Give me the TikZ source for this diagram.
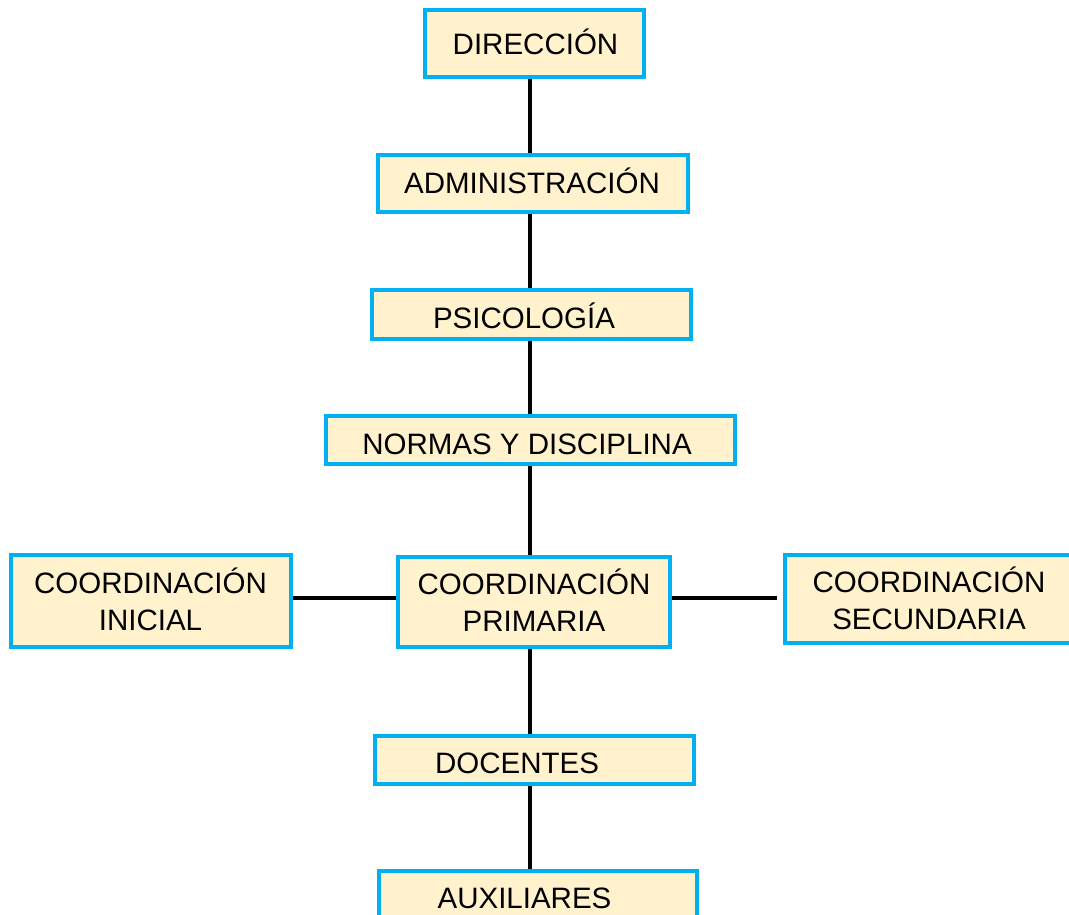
\documentclass[tikz,border=0pt]{standalone}
\usepackage{fontspec}
\setmainfont{Liberation Sans}
\definecolor{boxline}{HTML}{00B0F0}
\definecolor{boxfill}{HTML}{FFF2CC}
\begin{document}
\begin{tikzpicture}[x=1pt,y=-1pt,
  orgbox/.style={draw=boxline, fill=boxfill, line width=4.5pt, inner sep=0pt},
  lbl/.style={inner sep=0pt, font=\fontsize{29.5}{37}\selectfont, text=black, anchor=base},
  lbl2/.style={inner sep=0pt, font=\fontsize{29.5}{37}\selectfont, text=black, align=center},
  conn/.style={line width=4.3pt, black}]
\useasboundingbox (0,0) rectangle (1069,914);
\clip (0,0) rectangle (1069,914);
% boxes
\node[orgbox, minimum width=219pt, minimum height=67pt] (dir) at (534.5,43.5) {};
\node[orgbox, minimum width=310pt, minimum height=57pt] (adm) at (533,183.5) {};
\node[orgbox, minimum width=319pt, minimum height=49pt] (psi) at (531.5,314.5) {};
\node[orgbox, minimum width=409pt, minimum height=48pt] (nor) at (530.5,440) {};
\node[orgbox, minimum width=280pt, minimum height=92pt] (ini) at (151,601) {};
\node[orgbox, minimum width=272pt, minimum height=90pt] (pri) at (534,602) {};
\node[orgbox, minimum width=300pt, minimum height=88pt] (sec) at (935,599) {};
\node[orgbox, minimum width=319pt, minimum height=48pt] (doc) at (534.5,760) {};
\node[orgbox, minimum width=318pt, minimum height=50pt] (aux) at (538,896) {};
% spine coordinates
\coordinate (spine) at (530,0);
\coordinate (hl) at (0,598);
% connectors
\draw[conn] (dir.south -| spine) -- (adm.north -| spine);
\draw[conn] (adm.south -| spine) -- (psi.north -| spine);
\draw[conn] (psi.south -| spine) -- (nor.north -| spine);
\draw[conn] (nor.south -| spine) -- (pri.north -| spine);
\draw[conn] (pri.south -| spine) -- (doc.north -| spine);
\draw[conn] (doc.south -| spine) -- (aux.north -| spine);
\draw[conn] (ini.east |- hl) -- (pri.west |- hl);
\draw[conn] (pri.east |- hl) -- ([xshift=-6pt]sec.west |- hl);
% labels
\node[lbl] (tdir) at (535.5,54.5) {DIRECCIÓN};
\node[lbl] (tadm) at (532,193.5) {ADMINISTRACIÓN};
\node[lbl] (tpsi) at (524,328) {PSICOLOGÍA};
\node[lbl] (tnor) at (527,454.5) {NORMAS Y DISCIPLINA};
\node[lbl2] (tini) at (150.5,599) {COORDINACIÓN\\INICIAL};
\node[lbl2] (tpri) at (534,600) {COORDINACIÓN\\PRIMARIA};
\node[lbl2] (tsec) at (929,598) {COORDINACIÓN\\SECUNDARIA};
\node[lbl] (tdoc) at (517,773) {DOCENTES};
\node[lbl] (taux) at (524.5,908.5) {AUXILIARES};
\end{tikzpicture}
\end{document}
